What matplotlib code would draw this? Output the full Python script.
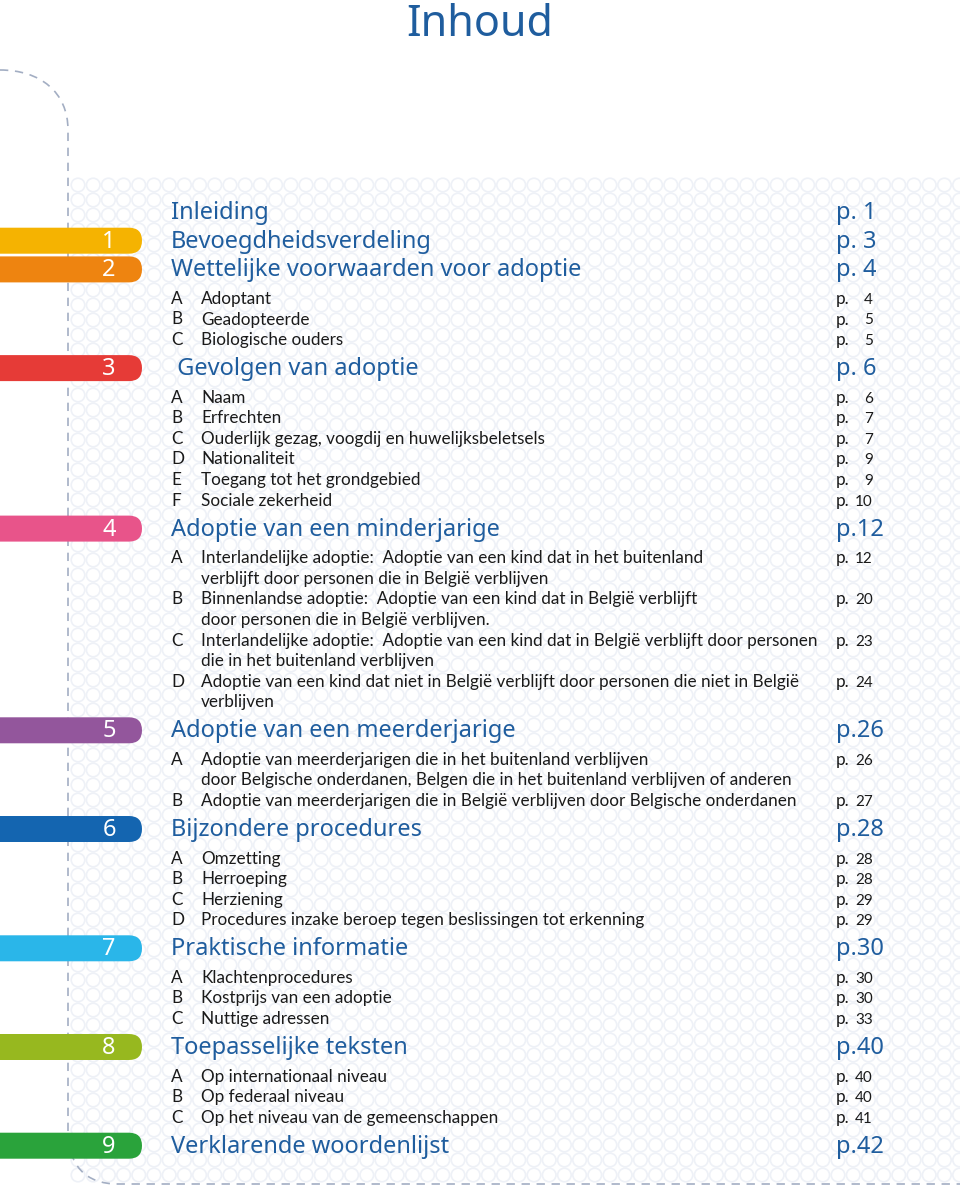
import numpy as np
import matplotlib
matplotlib.use("Agg")
import matplotlib.pyplot as plt
from matplotlib.patches import FancyBboxPatch, PathPatch
from matplotlib.path import Path

# ---------------- data ----------------
page_title = "Inhoud"
section_numbers = ["", "1", "2", "3", "4", "5", "6", "7", "8", "9"]
section_titles = [
    "Inleiding",
    "Bevoegdheidsverdeling",
    "Wettelijke voorwaarden voor adoptie",
    " Gevolgen van adoptie",
    "Adoptie van een minderjarige",
    "Adoptie van een meerderjarige",
    "Bijzondere procedures",
    "Praktische informatie",
    "Toepasselijke teksten",
    "Verklarende woordenlijst",
]
section_pages = ["p. 1", "p. 3", "p. 4", "p. 6", "p.12", "p.26", "p.28", "p.30", "p.40", "p.42"]
tab_colors = [None, "#f5b301", "#ee8410", "#e63b37", "#e8548a", "#93569c",
              "#1465b0", "#2ab6e9", "#97b81f", "#2aa33b"]

sub_letters = [
    [], [], ["A", "B", "C"], ["A", "B", "C", "D", "E", "F"], ["A", "B", "C", "D"],
    ["A", "B"], ["A", "B", "C", "D"], ["A", "B", "C"], ["A", "B", "C"], [],
]
sub_texts = [
    [], [],
    [["Adoptant"], ["Geadopteerde"], ["Biologische ouders"]],
    [["Naam"], ["Erfrechten"], ["Ouderlijk gezag, voogdij en huwelijksbeletsels"],
     ["Nationaliteit"], ["Toegang tot het grondgebied"], ["Sociale zekerheid"]],
    [["Interlandelijke adoptie:  Adoptie van een kind dat in het buitenland",
      "verblijft door personen die in België verblijven"],
     ["Binnenlandse adoptie:  Adoptie van een kind dat in België verblijft",
      "door personen die in België verblijven."],
     ["Interlandelijke adoptie:  Adoptie van een kind dat in België verblijft door personen",
      "die in het buitenland verblijven"],
     ["Adoptie van een kind dat niet in België verblijft door personen die niet in België",
      "verblijven"]],
    [["Adoptie van meerderjarigen die in het buitenland verblijven",
      "door Belgische onderdanen, Belgen die in het buitenland verblijven of anderen"],
     ["Adoptie van meerderjarigen die in België verblijven door Belgische onderdanen"]],
    [["Omzetting"], ["Herroeping"], ["Herziening"],
     ["Procedures inzake beroep tegen beslissingen tot erkenning"]],
    [["Klachtenprocedures"], ["Kostprijs van een adoptie"], ["Nuttige adressen"]],
    [["Op internationaal niveau"], ["Op federaal niveau"], ["Op het niveau van de gemeenschappen"]],
    [],
]
sub_pages = [
    [], [], ["4", "5", "5"], ["6", "7", "7", "9", "9", "10"], ["12", "20", "23", "24"],
    ["26", "27"], ["28", "28", "29", "29"], ["30", "30", "33"], ["40", "40", "41"], [],
]

# ---------------- style ----------------
BLUE = "#1f5d9e"
HEAD_FONT = ["Noto Sans", "DejaVu Sans"]
SUB_FONT = ["Lato", "DejaVu Sans"]
W, H = 960, 1190

fig = plt.figure(figsize=(W / 100, H / 100), dpi=100)
ax = fig.add_axes([0, 0, 1, 1])
ax.set_xlim(0, W)
ax.set_ylim(H, 0)
ax.axis("off")

# background ring pattern
gx = np.arange(78, W + 8, 15.2)
gy = np.arange(185, 1182, 15.0)
XX, YY = np.meshgrid(gx, gy)
ax.scatter(XX.ravel(), YY.ravel(), s=95, marker="o", facecolors="none",
           edgecolors="#eef1f7", linewidths=1.2, zorder=0)

# dashed guide line
verts = [(0, 70), (40, 70), (68, 92), (68, 130),
         (68, 1130), (68, 1165), (85, 1184), (118, 1184), (W, 1184)]
codes = [Path.MOVETO, Path.CURVE4, Path.CURVE4, Path.CURVE4,
         Path.LINETO, Path.CURVE4, Path.CURVE4, Path.CURVE4, Path.LINETO]
ax.add_patch(PathPatch(Path(verts, codes), fill=False, edgecolor="#a3aec3",
                       lw=1.2, linestyle=(0, (5, 4)), zorder=1))

# title
ax.text(480, 36, page_title, ha="center", va="baseline", fontsize=31,
        color=BLUE, family=HEAD_FONT, zorder=5)

# entries
y = 212.0
prev = None
X_HEAD, X_LET, X_SUB, X_P, X_NUM = 171, 171, 201, 836, 873
for i in range(len(section_titles)):
    if prev is not None:
        y += 28.7 if prev == "head" else 28.0
    if tab_colors[i]:
        ax.add_patch(FancyBboxPatch((-40, y - 13), 182, 26,
                                    boxstyle="round,pad=0,rounding_size=13",
                                    facecolor=tab_colors[i], edgecolor="none", zorder=3))
        ax.text(109, y + 1, section_numbers[i], ha="center", va="center",
                fontsize=17, color="white", family=HEAD_FONT, zorder=4)
    ax.text(X_HEAD, y + 1, section_titles[i], ha="left", va="center", fontsize=17,
            color=BLUE, family=HEAD_FONT, zorder=5)
    ax.text(X_P, y + 1, section_pages[i], ha="left", va="center", fontsize=17,
            color=BLUE, family=HEAD_FONT, zorder=5)
    prev = "head"
    for letter, lines, pg in zip(sub_letters[i], sub_texts[i], sub_pages[i]):
        y += 29.5 if prev == "head" else 20.6
        ax.text(X_LET, y, letter, ha="left", va="center", fontsize=12.3,
                color="#1a1a1a", family=SUB_FONT, zorder=5)
        ax.text(X_P, y, "p.", ha="left", va="center", fontsize=12.3,
                color="#1a1a1a", family=SUB_FONT, zorder=5)
        ax.text(X_NUM, y + 1, pg, ha="right", va="center", fontsize=11,
                color="#1a1a1a", family=SUB_FONT, zorder=5)
        for k, line in enumerate(lines):
            if k > 0:
                y += 20.6
            ax.text(X_SUB, y, line, ha="left", va="center", fontsize=12.3,
                    color="#1a1a1a", family=SUB_FONT, zorder=5)
        prev = "sub"

fig.savefig("out.png", dpi=100, facecolor="white")
